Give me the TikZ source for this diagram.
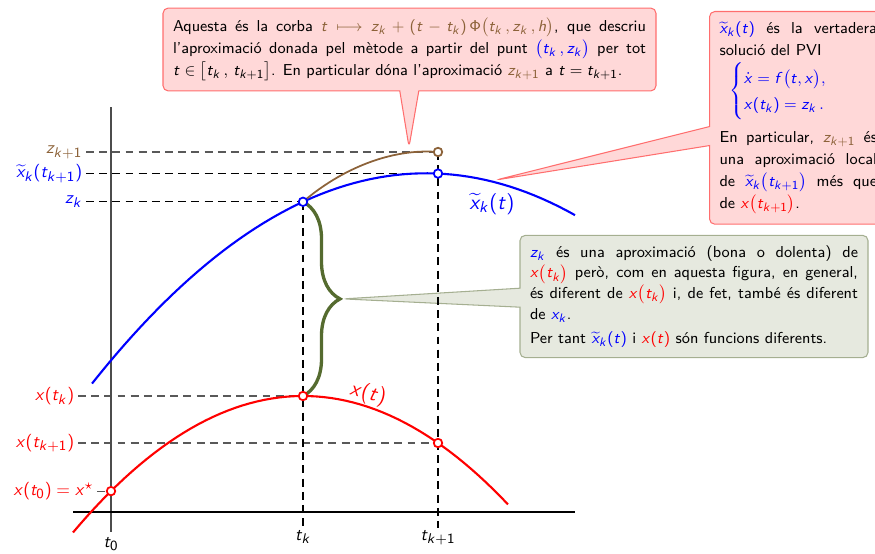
\documentclass[tikz,border=0pt]{standalone}
\usepackage{amsmath}
\usetikzlibrary{shapes.callouts, decorations.pathreplacing, calc}

% sans serif math, as in the slides
\DeclareSymbolFont{sflletres}{OT1}{cmss}{m}{sl}
\SetSymbolFont{operators}{normal}{OT1}{cmss}{m}{n}
\DeclareMathSymbol{t}{\mathalpha}{sflletres}{`t}
\DeclareMathSymbol{x}{\mathalpha}{sflletres}{`x}
\DeclareMathSymbol{z}{\mathalpha}{sflletres}{`z}
\DeclareMathSymbol{k}{\mathalpha}{sflletres}{`k}
\DeclareMathSymbol{h}{\mathalpha}{sflletres}{`h}
\DeclareMathSymbol{f}{\mathalpha}{sflletres}{`f}
\DeclareMathSizes{9}{9}{7}{5.5}
\DeclareMathSizes{9.6}{9.6}{7.6}{6}
\DeclareMathSizes{12.5}{12.5}{9}{7}

\definecolor{corba}{RGB}{140,98,57}
\definecolor{oliva}{RGB}{85,107,47}
\definecolor{rosa}{RGB}{255,216,216}
\definecolor{vora}{RGB}{255,110,110}
\definecolor{grisverd}{RGB}{230,233,223}
\definecolor{voraverd}{RGB}{165,175,145}

\begin{document}
\begin{tikzpicture}[
    font=\sffamily\fontsize{9}{12.5}\selectfont,
    declare function={
      xv(\t) = 7.594 - 0.09425*(\t-8.52)^2;
      xr(\t) = 3.14 - 0.129*(\t-6.06)^2;
    },
    punt/.style={circle, draw=#1, fill=white, line width=1pt,
                 inner sep=0pt, minimum size=0.17cm},
    etiq/.style={anchor=east, inner sep=2pt,
                 font=\sffamily\fontsize{9.6}{11}\selectfont},
    guia/.style={dash pattern=on 4.5pt off 3pt, line width=0.6pt},
    nota/.style={rectangle callout, draw=vora, fill=rosa, line width=0.6pt,
                 rounded corners=3pt, callout pointer width=0.38cm,
                 inner sep=0.2cm, align=justify},
    notaverda/.style={nota, draw=voraverd, fill=grisverd},
    gran/.style={font=\sffamily\fontsize{12.5}{14}\selectfont},
]

\useasboundingbox (0,0) rectangle (17.5,11.06);
\clip (0,0) rectangle (17.5,11.06);

% ---- points on the curves ----
\coordinate (zk)  at (6.06, {xv(6.06)});
\coordinate (xvk) at (8.76, {xv(8.76)});
\coordinate (zk1) at (8.76, 8.02);
\coordinate (xtk)  at (6.06, {xr(6.06)});
\coordinate (xtk1) at (8.76, {xr(8.76)});
\coordinate (xt0)  at (2.22, {xr(2.22)});

\coordinate (tkb)  at (6.06, 0.5);
\coordinate (tk1b) at (8.76, 0.5);
\coordinate (t0b)  at (2.22, 0.42);
\coordinate (t0a)  at (2.22, 8.92);

% pointers of the notes
\coordinate (pcorba) at (8.18, 8.12);
\coordinate (pblau)  at (9.92, 7.46);
\coordinate (pverd)  at ($(zk)!0.5!(xtk)+(0.80,0)$);

% ---- notes ----
\node[nota, callout absolute pointer={(pcorba)}, text width=9.46cm]
  (ncorba) at (8.19, 10.07)
  {Aquesta és la corba \textcolor{corba}{$t\longmapsto z_k+(t-t_k)\,\Phi\bigl(t_k\,,z_k\,,h\bigr)$},
   que descriu\linebreak l'aproximació donada pel mètode a partir del punt
   \textcolor{blue}{$\bigl(t_k\,,z_k\bigr)$} per tot\linebreak
   $t\in\bigl[t_k\,,\,t_{k+1}\bigr]$. En particular dóna l'aproximació
   \textcolor{corba}{$z_{k+1}$} a $t=t_{k+1}$.};

\node[nota, callout absolute pointer={(pblau)}, text width=3.15cm,
      anchor=north west] (nblau) at (14.18, 10.84)
  {\textcolor{blue}{$\widetilde{x}_k(t)$} és la vertadera\linebreak
   solució del PVI\par\smallskip
   \hspace*{0.2cm}\textcolor{blue}{$\renewcommand{\arraystretch}{1.05}%
     \begin{cases}\dot x=f\bigl(t,x\bigr),\\
     x(t_k)=z_k\,.\end{cases}$}\par\medskip
   En particular, \textcolor{corba}{$z_{k+1}$} és\linebreak
   una aproximació local\linebreak
   de \textcolor{blue}{$\widetilde{x}_k\bigl(t_{k+1}\bigr)$} més que\linebreak
   de \textcolor{red}{$x\bigl(t_{k+1}\bigr)$}.};

\node[notaverda, callout absolute pointer={(pverd)}, text width=6.56cm,
      font=\sffamily\fontsize{9}{11.8}\selectfont]
  (nverd) at (13.88, 5.13)
  {\textcolor{blue}{$z_k$} és una aproximació (bona o dolenta) de\linebreak
   \textcolor{red}{$x\bigl(t_k\bigr)$} però, com en aquesta figura, en general,\linebreak
   és diferent de \textcolor{red}{$x\bigl(t_k\bigr)$} i, de fet, també és diferent\linebreak
   de \textcolor{blue}{$x_k$}.\par\vspace{2pt}
   Per tant \textcolor{blue}{$\widetilde{x}_k(t)$} i \textcolor{red}{$x(t)$}
   són funcions diferents.};

% ---- labels on the vertical axis ----
\node[etiq, text=corba] (lzk1)  at (1.72, 8.02) {$z_{k+1}$};
\node[etiq, text=blue]  (lxvk)  at (1.72, {xv(8.76)}) {$\widetilde{x}_k(t_{k+1})$};
\node[etiq, text=blue]  (lzk)   at (1.72, {xv(6.06)}) {$z_k$};
\node[etiq, text=red]   (lxtk)  at (1.56, {xr(6.06)}) {$x(t_k)$};
\node[etiq, text=red]   (lxtk1) at (1.56, {xr(8.76)}) {$x(t_{k+1})$};
\node[etiq, text=red]   (lxt0)  at (1.94, {xr(2.22)}) {$x(t_0)=x^\star$};

% ---- guide lines ----
\draw[guia, black!65] (lzk1) -- (zk1);
\draw[guia] (lxvk) -- (xvk);
\draw[guia] (lzk) -- (zk);
\draw[guia, black!65] (lxtk) -- (xtk);
\draw[guia, black!65] (lxtk1) -- (xtk1);
\draw[guia, black!65] (lxt0) -- (xt0);
\draw[guia] (zk) -- (tkb);
\draw[guia] (zk1) -- (tk1b);

% ---- axes ----
\draw[black!70, line width=1.1pt] (t0b) -- (t0a);
\draw[line width=0.8pt] (1.46, 0.82) -- (11.5, 0.82);

\node[etiq, anchor=north, inner sep=3pt] (lt0)  at (t0b)  {$t_0$};
\node[etiq, anchor=north, inner sep=1pt] (ltk)  at (tkb)  {$t_k$};
\node[etiq, anchor=north, inner sep=1pt] (ltk1) at (tk1b) {$t_{k+1}$};

% ---- curves ----
\draw[blue, line width=1.2pt] plot[domain=1.84:11.5, samples=60] (\x, {xv(\x)});
\draw[red, line width=1.2pt] plot[domain=1.46:10.16, samples=60] (\x, {xr(\x)});
\draw[corba, line width=1pt] (zk) .. controls (6.8, 7.66) and (7.8, 8.10) .. (zk1);

\node[gran, text=blue] (lxv) at (9.84, 6.98) {$\widetilde{x}_k(t)$};
\node[gran, text=red, rotate=-14] (lx) at (7.36, 3.18) {$x(t)$};

% ---- brace between z_k and x(t_k) ----
\draw[oliva, line width=1.9pt, decorate, decoration={brace, amplitude=0.74cm}]
  (zk) -- (xtk);

% ---- marks ----
\node[punt=blue]  (mzk)   at (zk)   {};
\node[punt=blue]  (mxvk)  at (xvk)  {};
\node[punt=corba] (mzk1)  at (zk1)  {};
\node[punt=red]   (mxtk)  at (xtk)  {};
\node[punt=red]   (mxtk1) at (xtk1) {};
\node[punt=red]   (mxt0)  at (xt0)  {};

\end{tikzpicture}
\end{document}
